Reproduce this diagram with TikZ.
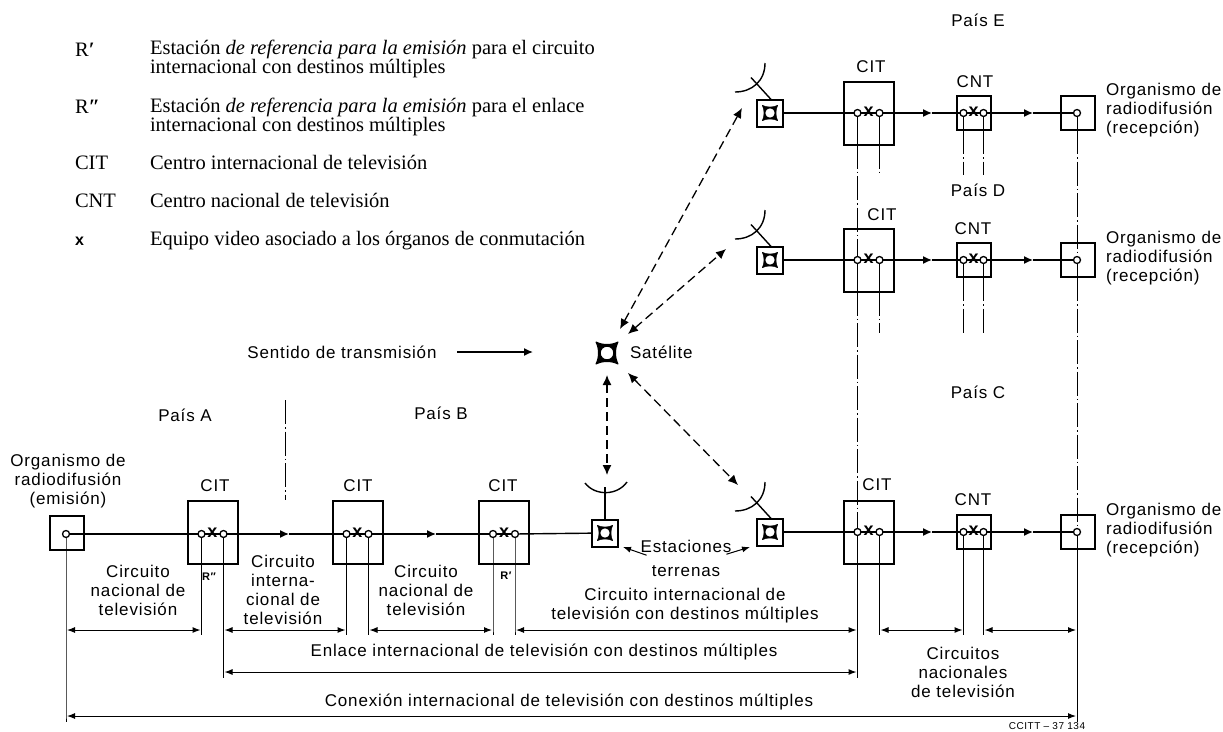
\documentclass[tikz,border=0pt]{standalone}
\usepackage{fontspec}
\usetikzlibrary{arrows.meta,positioning}
\setmainfont[LetterSpace=5]{Liberation Sans}
\newfontfamily\legendfont{Liberation Serif}

\begin{document}
\begin{tikzpicture}[x=1pt,y=-1pt]
  \tikzset{
  	every node/.style={inner sep=0pt,outer sep=0pt},
  	lbl/.style={font=\fontsize{17}{19}\selectfont, align=center},
  	orglbl/.style={lbl, anchor=west, align=left},
  	legendkey/.style={font=\legendfont\fontsize{20.5}{19}\selectfont, anchor=west, text height=16pt, text depth=4pt},
  	legendtxt/.style={font=\legendfont\fontsize{20.5}{19}\selectfont, anchor=west, align=left},
  	legendline/.style={legendkey},
  	citbox/.style={draw, line width=2pt, minimum width=50pt, minimum height=63pt},
  	cntbox/.style={draw, line width=2pt, minimum width=34pt, minimum height=34pt},
  	stbox/.style={draw, line width=2pt, minimum width=26pt, minimum height=27pt},
  	hub/.style={circle, draw, line width=1.3pt, minimum size=7pt},
  	swmark/.style={font=\fontsize{18}{18}\bfseries\selectfont},
  	wire/.style={line width=1.4pt},
  	flow/.style={wire, -{Latex[length=9pt,width=8pt]}},
  	ext/.style={line width=1pt},
  	chainline/.style={line width=1pt, dash pattern=on 24pt off 3pt on 1.5pt off 3pt},
  	dim/.style={line width=1pt, {Latex[length=8pt,width=6pt]}-{Latex[length=8pt,width=6pt]}, shorten <=1pt, shorten >=1pt},
  	link/.style={line width=1.3pt, dash pattern=on 9pt off 5pt, {Latex[length=10pt,width=9pt]}-{Latex[length=10pt,width=9pt]}},
  }
  \def\Ring(#1,#2,#3){
    \begin{scope}[shift={(#1)},scale=#2,line width=#3pt,line cap=round,line join=round]
      \path[fill,draw,even odd rule] (-10.8,-10.8) .. controls (-5,-7.5) and (5,-7.5) .. (10.8,-10.8) .. controls (7.5,-5) and (7.5,5) .. (10.8,10.8)
        .. controls (5,7.5) and (-5,7.5) .. (-10.8,10.8) .. controls (-7.5,5) and (-7.5,-5) .. (-10.8,-10.8)
        (0,0) circle (7);
    \end{scope}
  }
  \useasboundingbox (0,0) rectangle (1223,731);

  % Rows of the dimension lines, ends of the short chain lines.
  \coordinate (rowA) at (0,630);
  \coordinate (rowB) at (0,672);
  \coordinate (rowC) at (0,716);
  \coordinate (stubE) at (0,175);
  \coordinate (stubD) at (0,333);

  % Legend.
  \node[legendkey] (keyRa) at (75,50) {R\textit{\textbf{′}}};
  \node[legendtxt] (txtRa) at (150,59) {Estación \textit{de referencia para la emisión} para el circuito\\internacional con destinos múltiples};
  \node[legendkey] (keyRb) at (75,107) {R\textit{\textbf{″}}};
  \node[legendtxt] (txtRb) at (150,116.5) {Estación \textit{de referencia para la emisión} para el enlace\\internacional con destinos múltiples};
  \node[legendkey] (keyCit) at (75,163) {CIT};
  \node[legendline] (txtCit) at (150,163) {Centro internacional de televisión};
  \node[legendkey] (keyCnt) at (75,201) {CNT};
  \node[legendline] (txtCnt) at (150,201) {Centro nacional de televisión};
  \node[legendkey, font=\fontsize{16}{16}\bfseries\selectfont] (keyX) at (75,239) {x};
  \node[legendline] (txtX) at (150,239) {Equipo video asociado a los órganos de conmutación};

  % The three receiving rows.
  \foreach \r/\y in {E/113,D/260,C/532}{
    \node[stbox] (st\r) at (770,\y) {};
    \node[citbox] (cit\r) at (868.5,\y) {};
    \node[cntbox] (cnt\r) at (973.5,\y) {};
    \node[cntbox] (org\r) at (1077.5,\y) {};
    \node[hub] (hub\r1) at (857.5,\y) {};
    \node[hub] (hub\r2) at (879.5,\y) {};
    \node[swmark] (mark\r) at (868.5,\y-1) {x};
    \node[hub] (hub\r3) at (963.5,\y) {};
    \node[hub] (hub\r4) at (983.5,\y) {};
    \node[swmark] (xn\r) at (973.5,\y-1) {x};
    \node[hub] (hub\r5) at (1077,\y) {};
    \coordinate (tip\r a) at (932,\y);
    \coordinate (tip\r b) at (1033,\y);
    \draw[wire] (st\r) -- (hub\r1) -- (hub\r2);
    \draw[flow] (hub\r2) -- (tip\r a);
    \draw[wire] (tip\r a) -- (hub\r3) -- (hub\r4);
    \draw[flow] (hub\r4) -- (tip\r b);
    \draw[wire] (tip\r b) -- (hub\r5);
    \Ring(st\r,.72,.4)
    % Dish on its stem.
    \draw[wire] (st\r.north) ++(2,1) -- ++(-21,-23);
    \draw[wire] (765,\y-50) .. controls (765,\y-32) and (752,\y-21) .. (735,\y-21);
  }

  % The three sending boxes of the lower row.
  \node[cntbox] (orgS) at (66.5,532.5) {};
  \node[hub] (hubS) at (66,534) {};
  \foreach \n/\x in {A/212.5,M/357.5,B/504}{
    \node[citbox] (cit\n) at (\x,532.5) {};
    \node[hub] (hub\n1) at (\x-11,534) {};
    \node[hub] (hub\n2) at (\x+11,534) {};
    \node[swmark] (mark\n) at (\x,533) {x};
  }
  \node[stbox] (stF) at (605,533) {};
  \Ring(stF,.72,.4)
  \coordinate (tipA) at (289,534);
  \coordinate (tipM) at (436,534);
  \draw[wire] (hubS) -- (hubA1) -- (hubA2);
  \draw[flow] (hubA2) -- (tipA);
  \draw[wire] (tipA) -- (hubM1) -- (hubM2);
  \draw[flow] (hubM2) -- (tipM);
  \draw[wire] (tipM) -- (hubB1) -- (hubB2);
  \draw[wire] (hubB2) -- (stF);
  \draw[wire] (stF.north) -- ++(0,-33);
  \draw[wire] (585,483) .. controls (595,496) and (617,496) .. (627,482);

  % Satellite and its links.
  \coordinate (sat) at (607,353);
  \Ring(sat,1,1.4)
  \coordinate (satE) at (620,329);
  \coordinate (dishE) at (742,108);
  \coordinate (satD) at (628,334);
  \coordinate (dishD) at (726,249);
  \coordinate (satF) at (607,375);
  \coordinate (dishF) at (607,475);
  \coordinate (satC) at (628,373);
  \coordinate (dishC) at (738,485);
  \draw[link] (satE) -- (dishE);
  \draw[link] (satD) -- (dishD);
  \draw[link] (satF) -- (dishF);
  \draw[link] (satC) -- (dishC);

  % Vertical chain lines between the rows.
  \foreach \p/\q/\bx in {E/D/citE,D/C/citD}{
    \draw[ext] (hub\p1) -- (hub\p1 |- \bx.south);
    \draw[chainline] (hub\p1 |- \bx.south) -- (hub\q1);
    \draw[ext] (hub\p2) -- (hub\p2 |- \bx.south);
  }
  \foreach \p/\bx in {E/cntE,D/cntD}{
    \draw[ext] (hub\p3) -- (hub\p3 |- \bx.south);
    \draw[ext] (hub\p4) -- (hub\p4 |- \bx.south);
    \draw[ext] (hub\p5) -- (hub\p5 |- \bx.south);
  }
  \draw[chainline] (hubE5 |- orgE.south) -- (hubD5);
  \draw[chainline] (hubD5 |- orgD.south) -- (hubC5);
  \foreach \h/\bx/\s in {hubE2/citE/stubE,hubE3/cntE/stubE,hubE4/cntE/stubE,hubD2/citD/stubD,hubD3/cntD/stubD,hubD4/cntD/stubD}{
    \draw[chainline] (\h |- \bx.south) -- (\h |- \s);
  }
  \coordinate (divTop) at (285,400);
  \coordinate (divBot) at (285,500);
  \draw[chainline] (divTop) -- (divBot);

  % Extension lines of the lower row.
  \draw[ext] (hubS) -- (hubS |- rowC) -- ++(0,6);
  \draw[ext] (hubC5) -- (hubC5 |- rowC) -- ++(0,6);
  \draw[ext] (hubA2) -- (hubA2 |- rowB) -- ++(0,6);
  \draw[ext] (hubC1) -- (hubC1 |- rowB) -- ++(0,6);
  \foreach \h in {hubA1,hubM1,hubM2,hubB1,hubB2,hubC2,hubC3,hubC4}{
    \draw[ext] (\h) -- (\h |- rowA) -- ++(0,5);
  }

  % Dimension lines.
  \foreach \p/\q in {hubS/hubA1,hubA2/hubM1,hubM2/hubB1,hubB2/hubC1,hubC2/hubC3,hubC4/hubC5}{
    \draw[dim] (\p |- rowA) -- (\q |- rowA);
  }
  \draw[dim] (hubA2 |- rowB) -- (hubC1 |- rowB);
  \draw[dim] (hubS |- rowC) -- (hubC5 |- rowC);

  % Labels.
  \node[lbl] (paisE) at (978,20) {País E};
  \node[lbl] (paisD) at (978,190) {País D};
  \node[lbl] (paisC) at (978,392) {País C};
  \node[lbl] (paisA) at (185,415) {País A};
  \node[lbl] (paisB) at (441,413) {País B};
  \node[lbl] (lblCitE) at (871,67) {CIT};
  \node[lbl] (lblCntE) at (975,82) {CNT};
  \node[lbl] (lblCitD) at (882,215) {CIT};
  \node[lbl] (lblCntD) at (973,229) {CNT};
  \node[lbl] (lblCitC) at (877,485) {CIT};
  \node[lbl] (lblCntC) at (973,500) {CNT};
  \node[lbl] (lblCitA) at (215,486) {CIT};
  \node[lbl] (lblCitM) at (358,486) {CIT};
  \node[lbl] (lblCitB) at (503,486) {CIT};
  \node[orglbl] (orgTxtE) at (1106,110) {Organismo de\\radiodifusión\\(recepción)};
  \node[orglbl] (orgTxtD) at (1106,258) {Organismo de\\radiodifusión\\(recepción)};
  \node[orglbl] (orgTxtC) at (1106,530) {Organismo de\\radiodifusión\\(recepción)};
  \node[lbl] (orgTxtS) at (68,481) {Organismo de\\radiodifusión\\(emisión)};
  \node[lbl] (dirTxt) at (342,352) {Sentido de transmisión};
  \coordinate (dirStart) at (457,352);
  \coordinate (dirEnd) at (533,352);
  \draw[flow] (dirStart) -- (dirEnd);
  \node[lbl, anchor=west] (satTxt) at (630,352) {Satélite};
  \node[lbl] (natA) at (138,590) {Circuito\\nacional de\\televisión};
  \node[lbl] (intA) at (283,590) {Circuito\\interna-\\cional de\\televisión};
  \node[lbl] (natB) at (426,590) {Circuito\\nacional de\\televisión};
  \node[font=\fontsize{11}{11}\bfseries\selectfont] (refB) at (209,577) {R″};
  \node[font=\fontsize{11}{11}\bfseries\selectfont] (refA) at (506,576) {R′};
  \node[lbl] (estTxt) at (686,546) {Estaciones};
  \node[lbl] (terTxt) at (686,571) {terrenas};
  \coordinate (estL) at (623,547);
  \coordinate (estR) at (750,547);
  \draw[ext, -{Latex[length=8pt,width=6pt]}] (estTxt.south west) ++(6,3) -- (estL);
  \draw[ext, -{Latex[length=8pt,width=6pt]}] (estTxt.south east) ++(-5,2) -- (estR);
  \node[lbl] (multTxt) at (685,605.5) {Circuito internacional de\\televisión con destinos múltiples};
  \node[lbl] (enlTxt) at (544,652) {Enlace internacional de televisión con destinos múltiples};
  \node[lbl] (conTxt) at (569,702) {Conexión internacional de televisión con destinos múltiples};
  \node[lbl] (natC) at (963,672) {Circuitos\\nacionales\\de televisión};
  \node[font=\fontsize{10}{10}\selectfont] (codeTxt) at (1047,726) {CCITT -- 37 134};
\end{tikzpicture}
\end{document}
